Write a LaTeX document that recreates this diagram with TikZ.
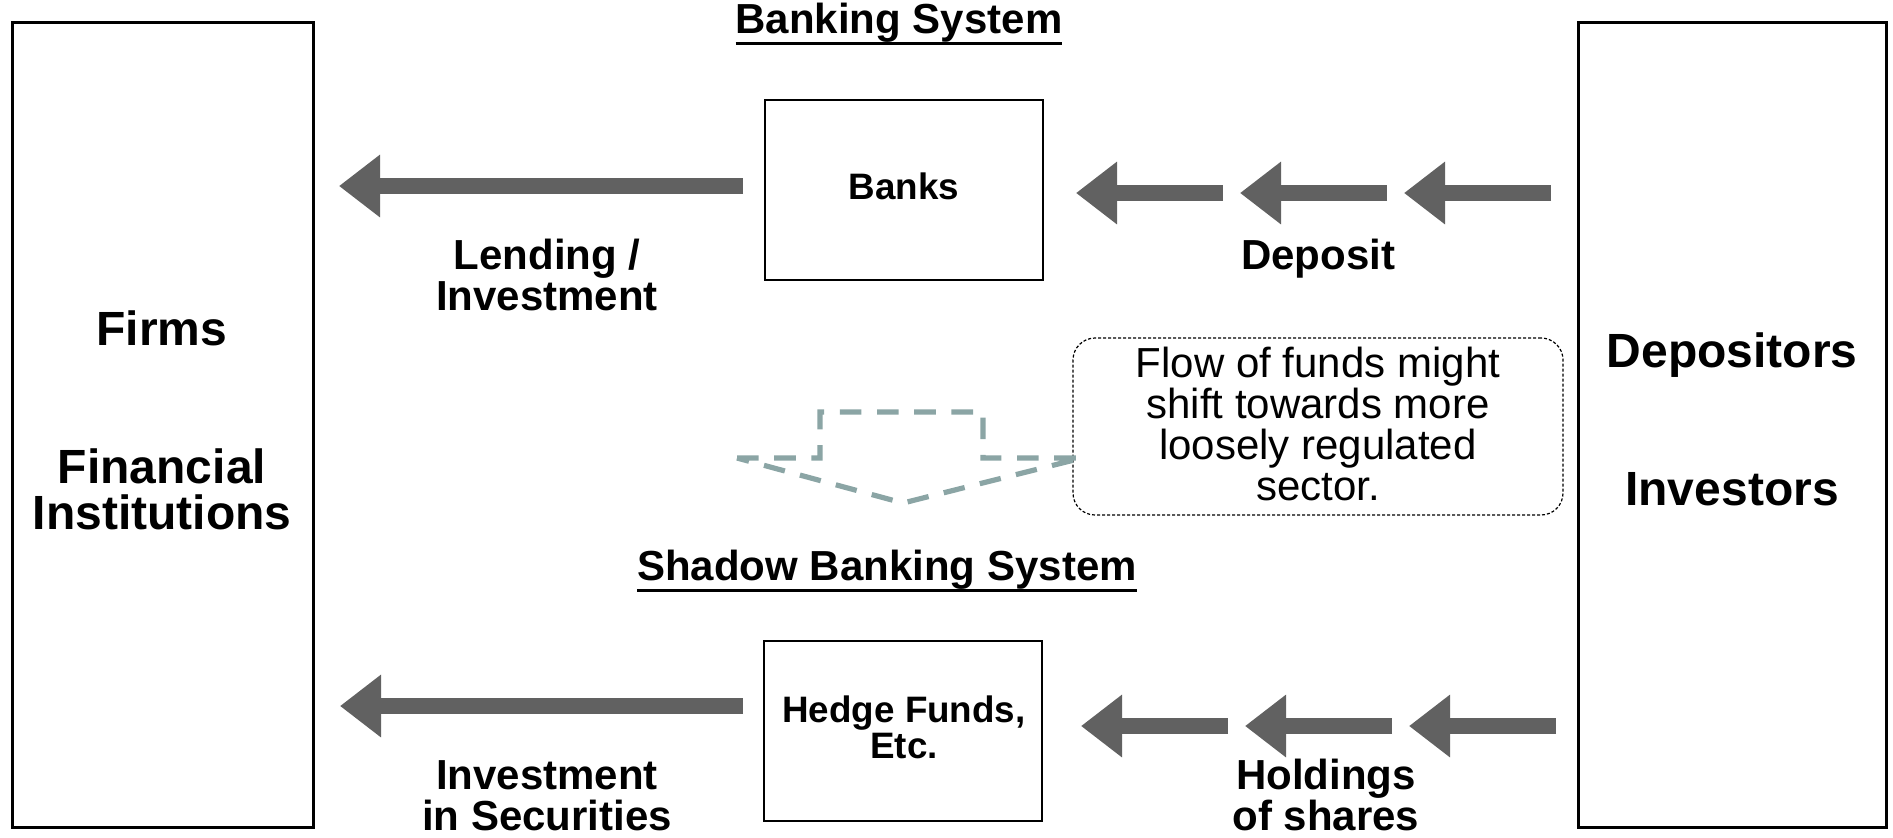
\documentclass[tikz,border=0pt]{standalone}
\usepackage{fontspec}
\setmainfont{Liberation Sans}
\usetikzlibrary{arrows.meta}
\definecolor{ag}{RGB}{97,97,97}
\definecolor{dg}{RGB}{139,165,165}
\newcommand\myul[1]{\setbox0\hbox{#1}\rlap{\rule[-5.8pt]{\wd0}{1.5pt}}\box0}
\begin{document}
\begin{tikzpicture}[x=0.5pt,y=-0.5pt,
  bigbox/.style={draw, line width=1.5pt, inner sep=0pt},
  midbox/.style={draw, line width=1pt, inner sep=0pt, minimum width=139pt, minimum height=90pt},
  midlbl/.style={align=center, inner sep=0pt, font=\bfseries\fontsize{18.4}{18}\selectfont},
  lbl/.style={align=center, inner sep=0pt, font=\bfseries\fontsize{21}{20.5}\selectfont},
  biglbl/.style={align=center, inner sep=0pt, font=\bfseries\fontsize{24}{23}\selectfont},
  blockarrow/.style={draw=ag, line width=8pt, -{Triangle[length=20.5pt, width=30pt, fill=ag]}},
  callout/.style={draw, line width=0.6pt, dash pattern=on 1.5pt off 1pt, rounded corners=11pt, minimum width=245pt, minimum height=88.5pt, inner sep=0pt},
  notelbl/.style={align=center, inner sep=0pt, font=\fontsize{21}{20.6}\selectfont},
  shiftarrow/.style={draw=dg, line width=2.6pt, dash pattern=on 10.8pt off 7.8pt}
]
\useasboundingbox (0,0) rectangle (1893,837);

% big boxes
\node[bigbox, minimum width=150.5pt, minimum height=402.5pt] (firmsbox) at (162.5,424.5) {};
\node[bigbox, minimum width=154pt, minimum height=402.5pt] (depbox) at (1732,424.5) {};
\node[biglbl] (firms) at (162,328) {Firms};
\node[biglbl] (fininst) at (162,489) {Financial\\Institutions};
\node[biglbl] (depositors) at (1732,355) {Depositors};
\node[biglbl] (investors) at (1732,489) {Investors};

% titles
\node[lbl, anchor=base] (banktitle) at (899,33.5) {\myul{Banking System}};
\node[lbl, anchor=base] (shadowtitle) at (887,580) {\myul{Shadow Banking System}};

% middle boxes
\node[midbox] (banks) at (904,190) {};
\node[midlbl] (bankslbl) at (904,186) {Banks};
\node[midbox] (hedge) at (903,731) {};
\node[midlbl] (hedgelbl) at (904,727) {Hedge Funds,\\Etc.};

% callout
\node[callout] (note) at (1318,426.5) {};
\node[notelbl] (notelbl) at (1318,424) {Flow of funds might\\shift towards more\\loosely regulated\\sector.};

% arrow coordinates
\coordinate (tla) at (743,186); \coordinate (tlb) at (339,186);
\coordinate (bla) at (743,706); \coordinate (blb) at (340,706);
\coordinate (t1a) at (1223,193); \coordinate (t1b) at (1076,193);
\coordinate (t2a) at (1387,193); \coordinate (t2b) at (1240,193);
\coordinate (t3a) at (1551,193); \coordinate (t3b) at (1404,193);
\coordinate (b1a) at (1228,726); \coordinate (b1b) at (1081,726);
\coordinate (b2a) at (1392,726); \coordinate (b2b) at (1245,726);
\coordinate (b3a) at (1556,726); \coordinate (b3b) at (1409,726);

\draw[blockarrow] (tla) -- (tlb);
\draw[blockarrow] (bla) -- (blb);
\draw[blockarrow] (t1a) -- (t1b);
\draw[blockarrow] (t2a) -- (t2b);
\draw[blockarrow] (t3a) -- (t3b);
\draw[blockarrow] (b1a) -- (b1b);
\draw[blockarrow] (b2a) -- (b2b);
\draw[blockarrow] (b3a) -- (b3b);

% arrow labels
\node[lbl] (lending) at (547,275) {Lending /\\Investment};
\node[lbl] (deposit) at (1318,259) {Deposit};
\node[lbl] (invsec) at (547,796) {Investment\\in Securities};
\node[lbl] (holdings) at (1326,795) {Holdings\\of shares};

% dashed down arrow
\draw[shiftarrow] (737,458) -- (820,458) -- (820,412) -- (983,412) -- (983,458) -- (1082,458) -- (903,503) -- cycle;
\end{tikzpicture}
\end{document}
